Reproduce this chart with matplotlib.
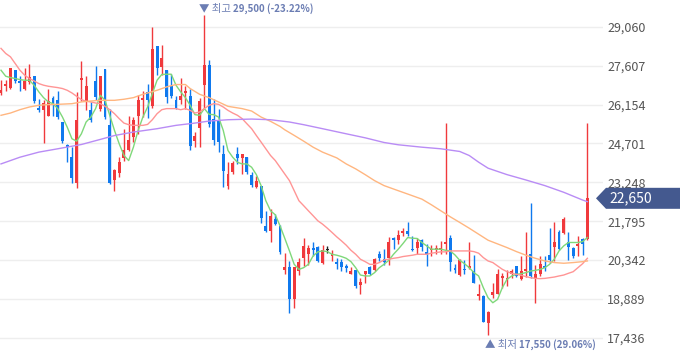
import numpy as np
import matplotlib.pyplot as plt
from matplotlib.patches import Polygon

plt.rcParams['font.family'] = ['Noto Sans CJK KR', 'DejaVu Sans']

# daily candles (open / high / low / close)
opens = [26585, 26850, 26775, 27435, 27025, 26725, 27000, 27210, 26010, 25935,
         25725, 26410, 26310, 25485, 24660, 24210, 23210, 27060, 26250, 25960,
         27025, 26000, 27475, 25375, 23350, 23585, 24160, 24470, 24935, 25710,
         26310, 26625, 26085, 28335, 27560, 27435, 26850, 26310, 26310, 26600,
         26460, 24785, 25285, 26900, 27620, 25620, 25560, 24310, 23125, 23625,
         24310, 24150, 24210, 23535, 23060, 23100, 21625, 21435, 21875, 21625,
         19960, 20085, 18875, 19935, 20410, 20585, 20785, 20835, 20225, 20725,
         20500, 20285, 20285, 20125, 19835, 19960, 19400, 19810, 20100, 19960,
         20560, 20375, 20410, 21185, 21085, 21360, 21435, 20760, 20810, 21100,
         20650, 20710, 20735, 20710, 20935, 21160, 20035, 19785, 20025, 20060,
         19935, 19000, 19000, 17995, 19035, 19085, 19685, 19610, 19835, 20110,
         19625, 19935, 20560, 19660, 19810, 20125, 20525, 20850, 21400, 21350,
         21025, 20810, 20875, 21125, 21125]
highs = [27085, 27060, 27535, 27460, 27210, 27500, 27660, 27210, 26350, 26310,
         26750, 26460, 26650, 25485, 24685, 24560, 26625, 27775, 27210, 26250,
         27610, 27210, 27475, 26000, 23750, 24185, 25250, 25710, 25685, 26500,
         26650, 26910, 29060, 28335, 28375, 27435, 27310, 26485, 27150, 26835,
         26750, 25125, 26400, 29500, 27810, 26350, 26000, 24625, 24000, 24060,
         24560, 24310, 24210, 23625, 23500, 23100, 22160, 22250, 22060, 21660,
         20625, 20310, 20085, 20410, 21185, 20900, 21035, 20875, 20910, 20875,
         20710, 20410, 20375, 20210, 20085, 19960, 19685, 19935, 20125, 20410,
         20685, 20750, 21210, 21210, 21460, 21535, 21775, 21250, 21185, 21125,
         20935, 20910, 20910, 21060, 25460, 21270, 20210, 20375, 20335, 21000,
         20525, 19435, 19035, 18460, 19500, 20000, 19875, 19960, 20000, 20125,
         20500, 21375, 22460, 20150, 20500, 20500, 21560, 21775, 21460, 21960,
         21410, 20835, 21250, 21150, 25460]
lows = [26500, 26660, 26750, 26960, 26660, 26685, 26910, 26210, 25860, 24710,
        25725, 25725, 25610, 24710, 24010, 23210, 23025, 26270, 25960, 25485,
        26335, 25910, 25600, 23185, 22910, 23460, 24035, 24435, 24750, 25035,
        25685, 25660, 26035, 27250, 27250, 26210, 26410, 26000, 26185, 26000,
        24460, 24560, 24560, 26035, 25310, 24625, 24375, 23085, 23000, 23560,
        23935, 23560, 23560, 23060, 23025, 21725, 21410, 21025, 21660, 20560,
        19835, 18375, 18535, 19785, 20125, 20150, 20500, 20285, 20185, 20600,
        20310, 20000, 19935, 19910, 19810, 19285, 19085, 19500, 19785, 19935,
        20310, 20150, 20150, 20775, 20935, 21250, 21250, 20685, 20560, 20685,
        20125, 20500, 20560, 20560, 20560, 19935, 19875, 19750, 19810, 20000,
        19500, 18835, 18035, 17550, 18935, 19060, 19310, 19375, 19685, 19710,
        19600, 19710, 19685, 18750, 19750, 19935, 20250, 20310, 20725, 21310,
        20335, 20435, 20500, 20525, 21085]
closes = [26685, 26925, 27500, 27025, 26960, 27025, 27185, 26270, 25935, 26225,
          26270, 26185, 25685, 24785, 24585, 23400, 25560, 27160, 26835, 25560,
          26435, 27210, 25685, 23225, 23725, 24025, 24470, 24810, 25560, 26310,
          26400, 26310, 28220, 27525, 27875, 26435, 26460, 26035, 26460, 26650,
          24600, 24960, 26270, 27620, 25435, 24810, 24750, 23685, 23560, 23960,
          24150, 24310, 23625, 23150, 23285, 21900, 21435, 22000, 21685, 20650,
          20085, 18875, 20085, 20285, 20875, 20785, 20725, 20310, 20725, 20725,
          20585, 20210, 20100, 20060, 19935, 19375, 19525, 19935, 19810, 20375,
          20435, 20285, 21035, 21110, 21275, 21435, 21310, 20710, 21035, 20835,
          20560, 20775, 20810, 20785, 21000, 20285, 19960, 20350, 19960, 20125,
          19500, 19060, 18035, 18400, 19150, 19810, 19750, 19685, 19935, 19750,
          19935, 20000, 19750, 19810, 20185, 20060, 20335, 21000, 20775, 21875,
          20835, 20500, 20960, 20960, 22650]

# moving averages
ma5 = [27435, 27210, 27160, 27125, 27085, 27060, 27060, 26875, 26625, 26410,
       26250, 26185, 26000, 25685, 25310, 24875, 24785, 25060, 25500, 25685,
       26000, 26500, 26310, 25750, 25185, 24685, 24250, 24060, 24560, 25185,
       25685, 26060, 26560, 27060, 27275, 27285, 27285, 26875, 26625, 26410,
       26125, 25775, 25750, 26000, 25785, 25775, 25685, 25185, 24435, 24185,
       23995, 23935, 23935, 23810, 23535, 23125, 22560, 22185, 22035, 21625,
       21160, 20685, 20185, 19995, 20060, 20185, 20500, 20650, 20685, 20660,
       20560, 20525, 20475, 20410, 20285, 20060, 19785, 19750, 19750, 19875,
       20060, 20185, 20335, 20560, 20750, 20960, 21185, 21160, 21150, 21000,
       20875, 20750, 20750, 20750, 20710, 20685, 20535, 20335, 20210, 20060,
       19875, 19750, 19310, 18935, 18750, 18875, 19310, 19625, 19750, 19810,
       19835, 19875, 19935, 19960, 19995, 20060, 20185, 20375, 20685, 20875,
       21000, 21000, 21000, 21035, 21185]
ma20 = [28250, 28060, 27935, 27685, 27435, 27250, 27125, 27035, 26935, 26875,
        26835, 26810, 26785, 26750, 26685, 26585, 26460, 26335, 26275, 26250,
        26210, 26185, 26085, 25960, 25810, 25625, 25460, 25400, 25375, 25375,
        25375, 25410, 25585, 25810, 25960, 26000, 26000, 26000, 25960, 26000,
        25935, 25835, 25875, 26000, 26125, 26185, 26160, 26060, 25935, 25835,
        25750, 25625, 25435, 25250, 24995, 24750, 24500, 24250, 24060, 23810,
        23560, 23310, 22935, 22560, 22375, 22185, 22000, 21810, 21685, 21535,
        21375, 21210, 21060, 20900, 20710, 20560, 20375, 20285, 20185, 20185,
        20250, 20350, 20375, 20410, 20435, 20475, 20500, 20525, 20560, 20560,
        20560, 20600, 20625, 20650, 20650, 20685, 20685, 20685, 20685, 20685,
        20660, 20600, 20435, 20310, 20250, 20125, 20000, 19910, 19850, 19810,
        19775, 19725, 19685, 19660, 19650, 19660, 19685, 19710, 19750, 19785,
        19850, 19910, 20060, 20210, 20410]
ma60_day = [0, 2, 4, 6, 8, 10, 12, 15, 17, 19, 21, 24, 26, 28, 30, 33, 35, 37,
            39, 40, 42, 44, 46, 48, 51, 53, 55, 57, 59, 60, 62, 64, 66, 68, 71,
            73, 75, 77, 79, 81, 84, 86, 89, 91, 93, 95, 97, 99, 101, 103, 107,
            109, 111, 113, 115, 117, 119, 121, 123, 124]
ma60 = [25750, 25835, 25960, 26060, 26125, 26150, 26160, 26185, 26250, 26285,
        26310, 26310, 26350, 26410, 26535, 26685, 26810, 26900, 26900, 26750,
        26535, 26410, 26250, 26085, 26000, 25910, 25685, 25525, 25335, 25210,
        25000, 24785, 24560, 24375, 24160, 23935, 23750, 23535, 23310, 23125,
        22935, 22810, 22620, 22410, 22185, 21960, 21750, 21535, 21310, 21085,
        20810, 20660, 20525, 20410, 20310, 20250, 20225, 20250, 20285, 20310]
ma120_day = [0, 4, 8, 12, 17, 21, 24, 28, 33, 37, 41, 44, 48, 53, 57, 61, 64, 68,
             73, 77, 81, 84, 89, 93, 97, 99, 101, 103, 107, 111, 115, 119, 123, 124]
ma120 = [23935, 24185, 24375, 24500, 24660, 24850, 24995, 25125, 25250, 25375,
         25460, 25535, 25585, 25610, 25585, 25500, 25400, 25250, 25060, 24910,
         24735, 24650, 24560, 24500, 24400, 24250, 24000, 23775, 23535, 23335,
         23125, 22875, 22585, 22525]

yticks = [17436, 18889, 20342, 21795, 23248, 24701, 26154, 27607, 29060]
hi_day, hi_val, hi_pct = 43, 29500, "-23.22%"
lo_day, lo_val, lo_pct = 103, 17550, "29.06%"

UP, DOWN = '#f0393c', '#0f79ee'

fig = plt.figure(figsize=(6.8, 3.58), dpi=100)
ax = fig.add_axes([0, 0, 603 / 680, 1])
ax.set_xlim(-0.21, 127.3)
ax.set_ylim(16686, 30057)
for s in ax.spines.values():
    s.set_visible(False)
ax.set_xticks([])
ax.set_yticks(yticks)
ax.set_yticklabels([f"{v:,}" for v in yticks])
ax.yaxis.tick_right()
ax.tick_params(axis='y', length=0, pad=3, labelsize=9, labelcolor='#555555')
ax.grid(axis='y', color='#eeeeee', lw=1)
ax.set_axisbelow(True)

x = np.arange(len(closes))
o, h, l, c = map(np.array, (opens, highs, lows, closes))
cols = np.where(c > o, UP, np.where(c < o, DOWN, '#222222'))
ax.vlines(x, l, h, colors=cols, lw=1, zorder=2)
body = np.maximum(np.abs(c - o), 40)
ax.bar(x, body, bottom=np.minimum(o, c), width=0.62, color=cols, lw=0, zorder=2)

ax.plot(np.arange(len(ma5)), ma5, color='#7fd87a', lw=1.0, zorder=3)
ax.plot(np.arange(len(ma20)), ma20, color='#ff9595', lw=1.0, zorder=3)
ax.plot(ma60_day, ma60, color='#ffb680', lw=1.0, zorder=3)
ax.plot(ma120_day, ma120, color='#b98cf5', lw=1.0, zorder=3)

# high / low markers
note = '#6b7db3'
t1 = ax.annotate("▼ 최고", xy=(hi_day, hi_val), xytext=(-5, 6), textcoords='offset pixels',
                 ha='left', va='center', fontsize=7.5, color=note)
t3 = ax.annotate("▲ 최저", xy=(lo_day, lo_val), xytext=(-3, -10), textcoords='offset pixels',
                 ha='left', va='center', fontsize=7.5, color=note)
fig.canvas.draw()
r = fig.canvas.get_renderer()
for t, val, pct in ((t1, hi_val, hi_pct), (t3, lo_val, lo_pct)):
    bb = t.get_window_extent(r)
    fig.text(bb.x1 + 2, (bb.y0 + bb.y1) / 2, f"{val:,} ({pct})", transform=None,
             ha='left', va='center', fontsize=7, fontweight='bold', color=note)

# current price tag
yc = ax.transData.transform((0, closes[-1]))[1]
tag = Polygon([(596, yc), (606, yc + 10.5), (680, yc + 10.5), (680, yc - 10.5), (606, yc - 10.5)],
              closed=True, transform=None, fc='#44598f', ec='none')
fig.patches.append(tag)
fig.text(609, yc, f"{closes[-1]:,}", transform=None, ha='left', va='center',
         fontsize=10, color='white')

fig.savefig("out.png", dpi=100)
